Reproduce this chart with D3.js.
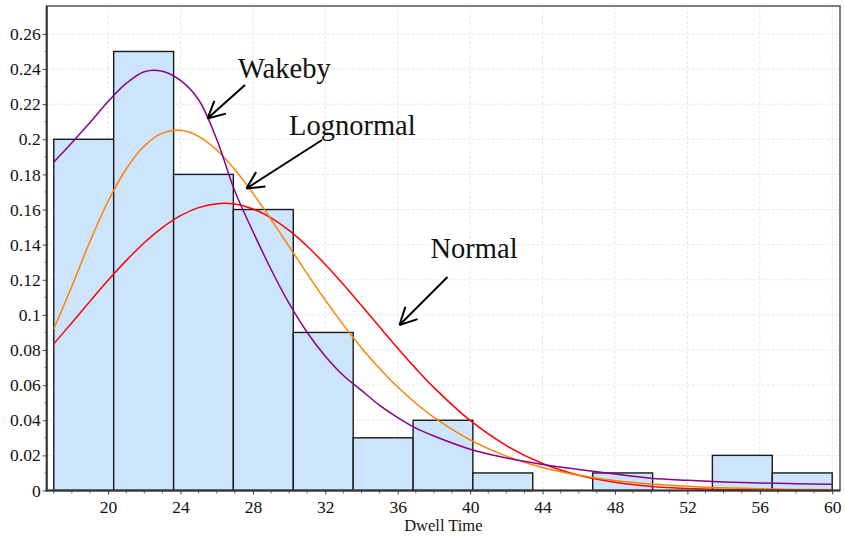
<!DOCTYPE html>
<html><head><meta charset="utf-8">
<script src="https://cdn.jsdelivr.net/npm/d3@7"></script>
<style>body{margin:0;background:#fff}svg{display:block}text{font-family:"Liberation Serif","Times New Roman",serif;fill:#111}</style>
</head><body>
<script>
// ---- data ----
const binEdges = [17, 20.31, 23.62, 26.92, 30.23, 33.54, 36.85, 40.15, 43.46, 46.77, 50.08, 53.38, 56.69, 60];
const binValues = [0.2, 0.25, 0.18, 0.16, 0.09, 0.03, 0.04, 0.01, 0, 0.01, 0, 0.02, 0.01];
const curveX = [17,18,19,20,21,22,23,24,25,26,27,28,29,30,31,32,33,34,35,36,37,38,40,42,44,46,48,50,52,54,56,58,60];
const wakebyY = [0.187,0.198,0.2095,0.2215,0.2318,0.2385,0.2388,0.2335,0.2225,0.2,0.1705,0.1475,0.126,0.1065,0.09,0.0765,0.0655,0.057,0.0485,0.0415,0.0355,0.031,0.0235,0.0185,0.0148,0.012,0.0094,0.007,0.0058,0.0049,0.0043,0.0039,0.0035];
const lognormalY = [0.092,0.1163,0.1418,0.1647,0.1831,0.1962,0.2035,0.2051,0.2017,0.1939,0.1828,0.1693,0.1544,0.1389,0.1234,0.1084,0.0943,0.0812,0.0695,0.0589,0.0497,0.0416,0.0288,0.0196,0.0131,0.0087,0.0057,0.0037,0.0024,0.0015,0.001,0.0006,0.0004];
const normalY = [0.0835,0.0955,0.1077,0.1197,0.1309,0.1411,0.1497,0.1565,0.1611,0.1633,0.1631,0.1603,0.1553,0.1481,0.1391,0.1287,0.1173,0.1053,0.0931,0.081,0.0694,0.0586,0.0399,0.0256,0.0154,0.0087,0.0047,0.0023,0.0011,0.0005,0.0002,0.0001,0];
const xTicks = [20,24,28,32,36,40,44,48,52,56,60];
const yTicks = [0,0.02,0.04,0.06,0.08,0.1,0.12,0.14,0.16,0.18,0.2,0.22,0.24,0.26];
const xLabel = "Dwell Time";
const annotations = [
  {text:"Wakeby", tx:238, ty:78, x1:245, y1:85, x2:207.5, y2:118.5},
  {text:"Lognormal", tx:289, ty:135, x1:322, y1:140, x2:246.5, y2:188.5},
  {text:"Normal", tx:430.5, ty:258, x1:447.5, y1:277, x2:399.5, y2:325}
];

// ---- chart ----
const W = 845, H = 540;
const L = 46.7, R = 840, T = 6, B = 490.5;
const svg = d3.select("body").append("svg").attr("width", W).attr("height", H);
const x = d3.scaleLinear().domain([16.61, 60.43]).range([L, R]);
const y = d3.scaleLinear().domain([0, 0.2759]).range([B, T]);

// grid
const grid = svg.append("g").attr("stroke", "#e6e6e6").attr("stroke-width", 1).attr("stroke-dasharray", "3,2");
grid.selectAll("line.v").data(xTicks).join("line").attr("class","v")
  .attr("x1", d => x(d)).attr("x2", d => x(d)).attr("y1", T).attr("y2", B);
grid.selectAll("line.h").data(yTicks.filter(d => d > 0)).join("line").attr("class","h")
  .attr("x1", L).attr("x2", R).attr("y1", d => y(d)).attr("y2", d => y(d));

// bars
svg.append("g").selectAll("rect").data(binValues).join("rect")
  .attr("x", (d,i) => x(binEdges[i]))
  .attr("width", (d,i) => x(binEdges[i+1]) - x(binEdges[i]))
  .attr("y", d => y(d))
  .attr("height", d => y(0) - y(d))
  .attr("fill", "#cce5fc").attr("stroke", "#1a1a1a").attr("stroke-width", 1.4);

// curves
const line = d3.line().x(d => x(d[0])).y(d => y(d[1])).curve(d3.curveCatmullRom.alpha(0.5));
const series = [
  {vals: normalY, color: "#ff0000"},
  {vals: lognormalY, color: "#ff8000"},
  {vals: wakebyY, color: "#8b008b"}
];
series.forEach(s => {
  svg.append("path").datum(curveX.map((v,i) => [v, s.vals[i]]))
    .attr("d", line).attr("fill", "none").attr("stroke", s.color).attr("stroke-width", 1.5);
});

// frame
svg.append("rect").attr("x", L).attr("y", T).attr("width", R - L).attr("height", B - T)
  .attr("fill", "none").attr("stroke", "#555").attr("stroke-width", 1.5);

// axes
const xAxis = d3.axisBottom(x).tickValues(xTicks).tickSize(4).tickPadding(6).tickFormat(d3.format("d"));
const gx = svg.append("g").attr("transform", `translate(0,${B})`).call(xAxis);
gx.select(".domain").remove();
gx.selectAll("text").attr("font-size", 17.5).attr("fill", "#111");
gx.selectAll("line").attr("stroke", "#444");
const xMinor = d3.range(17, 61, 1).filter(d => !xTicks.includes(d));
svg.append("g").selectAll("line").data(xMinor).join("line")
  .attr("x1", d => x(d)).attr("x2", d => x(d)).attr("y1", B).attr("y2", B + 3).attr("stroke", "#666");

const yAxis = d3.axisLeft(y).tickValues(yTicks).tickSize(4).tickPadding(2).tickFormat(d => String(+d.toFixed(2)));
const gy = svg.append("g").attr("transform", `translate(${L},0)`).call(yAxis);
gy.select(".domain").remove();
gy.selectAll("text").attr("font-size", 17.5).attr("fill", "#111");
gy.selectAll("line").attr("stroke", "#444");
const yMinor = d3.range(1, 27, 2).map(d => d / 100);
svg.append("g").selectAll("line").data(yMinor).join("line")
  .attr("x1", L - 2).attr("x2", L).attr("y1", d => y(d)).attr("y2", d => y(d)).attr("stroke", "#666");

svg.append("line").attr("x1", L).attr("x2", L).attr("y1", T).attr("y2", B + 1).attr("stroke", "#333").attr("stroke-width", 2);
svg.append("line").attr("x1", L - 1).attr("x2", R).attr("y1", B).attr("y2", B).attr("stroke", "#333").attr("stroke-width", 2);

svg.append("text").attr("x", (L + R) / 2).attr("y", 531).attr("text-anchor", "middle")
  .attr("font-size", 16.5).text(xLabel);

// annotations
annotations.forEach(a => {
  svg.append("text").attr("x", a.tx).attr("y", a.ty).attr("font-size", 28.5).text(a.text);
  const g = svg.append("g").attr("stroke", "#000").attr("stroke-width", 2).attr("fill", "none");
  g.append("line").attr("x1", a.x1).attr("y1", a.y1).attr("x2", a.x2).attr("y2", a.y2);
  const ang = Math.atan2(a.y1 - a.y2, a.x1 - a.x2);
  const hl = 19, ha = 27 * Math.PI / 180;
  [ang - ha, ang + ha].forEach(t => {
    g.append("line").attr("x1", a.x2).attr("y1", a.y2)
      .attr("x2", a.x2 + hl * Math.cos(t)).attr("y2", a.y2 + hl * Math.sin(t));
  });
});
</script>
</body></html>
